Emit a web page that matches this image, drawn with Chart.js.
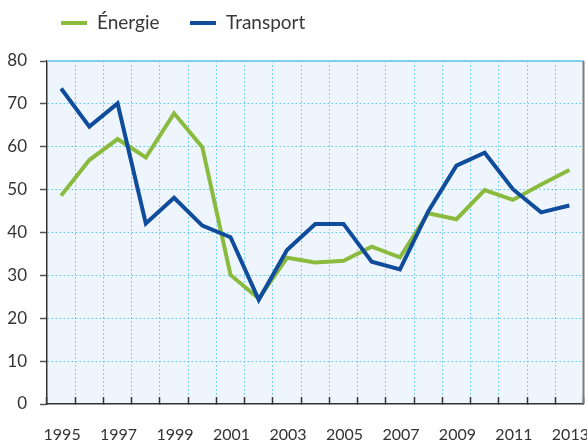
<!DOCTYPE html>
<html>
<head>
<meta charset="utf-8">
<script src="https://cdn.jsdelivr.net/npm/chart.js@4.4.1/dist/chart.umd.min.js"></script>
<style>
  html, body { margin: 0; background: #fff; }
  canvas { display: block; }
</style>
</head>
<body>
<canvas id="chart" width="587" height="444"></canvas>
<script>
// Values
const years = ['1995','1996','1997','1998','1999','2000','2001','2002','2003','2004',
               '2005','2006','2007','2008','2009','2010','2011','2012','2013'];
const energie   = [48.6, 56.9, 61.8, 57.5, 67.8, 59.9, 30.1, 24.6, 34.1, 33.0,
                   33.4, 36.7, 34.2, 44.5, 43.1, 49.9, 47.6, 51.2, 54.6];
const transport = [73.6, 64.7, 70.1, 42.1, 48.1, 41.6, 38.9, 24.3, 35.9, 42.0,
                   42.0, 33.2, 31.4, 44.9, 55.6, 58.6, 50.1, 44.7, 46.3];
const yTicks = [0, 10, 20, 30, 40, 50, 60, 70, 80];

const GREEN = '#8bbb3e';
const BLUE = '#0f4c9b';
const GRID = '#5cc6f0';
const FONT = 'Lato';

// plot background, top line and right border
const frame = {
  id: 'frame',
  beforeDraw(chart) {
    const { ctx, chartArea: a } = chart;
    ctx.save();
    ctx.fillStyle = '#eef5fc';
    ctx.fillRect(a.left, a.top, a.right - a.left, a.bottom - a.top);
    ctx.restore();
  },
  afterDraw(chart) {
    const { ctx, chartArea: a } = chart;
    ctx.save();
    ctx.lineWidth = 2;
    ctx.strokeStyle = '#7fcdf0';
    ctx.beginPath();
    ctx.moveTo(a.left, a.top);
    ctx.lineTo(a.right, a.top);
    ctx.stroke();
    ctx.strokeStyle = '#7d7d7d';
    ctx.beginPath();
    ctx.moveTo(a.right, a.top);
    ctx.lineTo(a.right, a.bottom);
    ctx.stroke();
    ctx.restore();
  }
};

// legend in the top-left corner
const legendLine = {
  id: 'legendLine',
  afterDraw(chart) {
    const { ctx } = chart;
    const items = [[61, 0], [190, 1]];
    ctx.save();
    ctx.font = '19px ' + FONT;
    ctx.textBaseline = 'middle';
    ctx.fillStyle = '#383838';
    items.forEach(([x, i]) => {
      const ds = chart.data.datasets[i];
      ctx.strokeStyle = ds.borderColor;
      ctx.lineWidth = 4;
      ctx.beginPath();
      ctx.moveTo(x, 23);
      ctx.lineTo(x + 26, 23);
      ctx.stroke();
      ctx.fillText(ds.label, x + 36, 23);
    });
    ctx.restore();
  }
};

new Chart(document.getElementById('chart'), {
  type: 'line',
  data: {
    labels: years,
    datasets: [
      { label: 'Énergie', data: energie, borderColor: GREEN, backgroundColor: GREEN,
        borderWidth: 4, pointRadius: 0, tension: 0, order: 1 },
      { label: 'Transport', data: transport, borderColor: BLUE, backgroundColor: BLUE,
        borderWidth: 4, pointRadius: 0, tension: 0, order: 0 }
    ]
  },
  options: {
    responsive: false,
    animation: false,
    devicePixelRatio: 1,
    layout: { padding: { top: 61, right: 3.5, left: 0, bottom: 0 } },
    plugins: { legend: { display: false }, tooltip: { enabled: false } },
    scales: {
      x: {
        offset: true,
        grid: {
          offset: true,
          color: c => (c.type !== 'tick' || c.index === 0) ? 'transparent' : GRID,
          lineWidth: 1,
          tickLength: -7,
          tickColor: '#333',
          tickWidth: 1.5,
          tickBorderDash: []
        },
        border: { color: '#333', width: 1.5, dash: [1.5, 2.5] },
        ticks: {
          autoSkip: false,
          maxRotation: 0,
          color: '#333',
          font: { family: FONT, size: 16 },
          padding: 28,
          labelOffset: 1,
          callback: (v, i) => i % 2 === 0 ? years[i] : ''
        },
        afterFit: s => { s.height = 40; s.paddingLeft = 0; s.paddingRight = 0; }
      },
      y: {
        min: 0,
        max: 80,
        afterBuildTicks: s => { s.ticks = yTicks.map(v => ({ value: v })); },
        grid: {
          color: c => (c.tick && (c.tick.value === 0 || c.tick.value === 80)) ? 'transparent' : GRID,
          lineWidth: 1,
          tickLength: 7,
          tickColor: '#555',
          tickWidth: 1.5,
          tickBorderDash: []
        },
        border: { color: '#333', width: 1.5, dash: [1.5, 2.5] },
        ticks: { color: '#333', font: { family: FONT, size: 17 }, padding: 13 },
        afterFit: s => { s.width = 47; }
      }
    }
  },
  plugins: [frame, legendLine]
});
</script>
</body>
</html>
